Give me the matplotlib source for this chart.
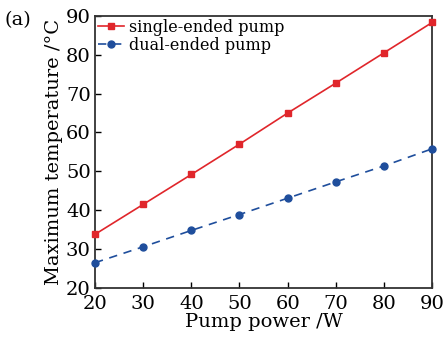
import numpy as np
import matplotlib.pyplot as plt

plt.rcParams['font.family'] = 'DejaVu Serif'
plt.rcParams['mathtext.fontset'] = 'dejavuserif'

power = [20, 30, 40, 50, 60, 70, 80, 90]
single_ended = [33.8, 41.5, 49.2, 57.0, 65.0, 72.7, 80.5, 88.3]
dual_ended = [26.5, 30.6, 34.8, 38.9, 43.1, 47.3, 51.4, 55.8]

fig = plt.figure(figsize=(4.45, 3.38), dpi=100)
ax = fig.add_axes([0.2135, 0.148, 0.7575, 0.805])

ax.plot(power, single_ended, '-s', color='#e0262b', lw=1.2, ms=5,
        label='single-ended pump', clip_on=False, zorder=3)
ax.plot(power, dual_ended, '--o', color='#1f4e9c', lw=1.2, ms=5,
        dashes=(5, 4), label='dual-ended pump', clip_on=False, zorder=3)

ax.set_xlim(20, 90)
ax.set_ylim(20, 90)
ax.set_xticks(np.arange(20, 91, 10))
ax.set_yticks(np.arange(20, 91, 10))
ax.tick_params(direction='in', length=4, width=1, labelsize=14)
ax.tick_params(axis='x', pad=5)
ax.tick_params(axis='y', pad=3)
for s in ax.spines.values():
    s.set_linewidth(1.3)
    s.set_color('#333333')

ax.set_xlabel('Pump power /W', fontsize=14, labelpad=0)
ax.set_ylabel('Maximum temperature /\u00b0C', fontsize=14, labelpad=2)

ax.legend(loc='upper left', frameon=False, fontsize=11.5, handlelength=1.6,
          handletextpad=0.3, borderaxespad=0.0, labelspacing=0.05,
          borderpad=0.2)

fig.text(0.01, 0.925, '(a)', fontsize=14)

plt.savefig('out.png', dpi=100)
